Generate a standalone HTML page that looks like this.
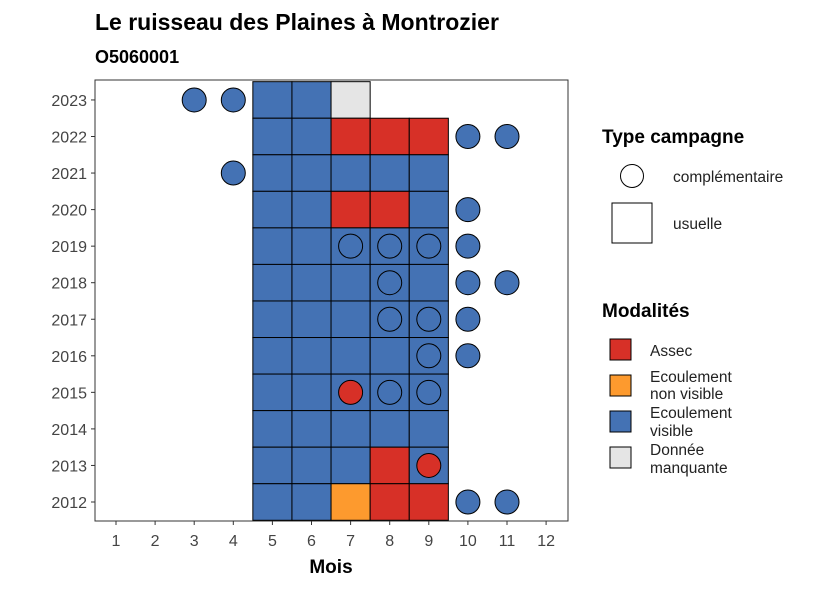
<!DOCTYPE html>
<html><head><meta charset="utf-8"><style>
body{margin:0;background:#fff;font-family:"Liberation Sans",sans-serif}
</style></head><body>
<svg id="c" width="826" height="590" xmlns="http://www.w3.org/2000/svg" font-family="Liberation Sans, sans-serif">
<text x="95" y="30" font-size="23" font-weight="bold">Le ruisseau des Plaines à Montrozier</text>
<text x="95" y="63" font-size="18" font-weight="bold">O5060001</text>
<rect x="95" y="80" width="473" height="441" fill="#fff" stroke="#333" stroke-width="1"/>
<g id="marks"></g>
<g id="axes"></g>
<text x="331" y="573" font-size="19" font-weight="bold" text-anchor="middle">Mois</text>
<g>
<text x="602" y="143" font-size="19" font-weight="bold">Type campagne</text>
<circle cx="632" cy="176" r="11.5" fill="#fff" stroke="#000"/>
<text x="673" y="182" font-size="15.5" fill="#222">complémentaire</text>
<rect x="612" y="203" width="40" height="40" fill="#fff" stroke="#000"/>
<text x="673" y="229" font-size="15.5" fill="#222">usuelle</text>
</g>
<g>
<text x="602" y="317" font-size="19" font-weight="bold">Modalités</text>
<rect x="610" y="339" width="21" height="21" fill="#D73027" stroke="#000"/>
<text x="650" y="356" font-size="15.5" fill="#222">Assec</text>
<rect x="610" y="375" width="21" height="21" fill="#FD9A2E" stroke="#000"/>
<text x="650" y="382" font-size="15.5" fill="#222">Ecoulement</text><text x="650" y="399" font-size="15.5" fill="#222">non visible</text>
<rect x="610" y="411" width="21" height="21" fill="#4472B4" stroke="#000"/>
<text x="650" y="418" font-size="15.5" fill="#222">Ecoulement</text><text x="650" y="436" font-size="15.5" fill="#222">visible</text>
<rect x="610" y="447" width="21" height="21" fill="#E5E5E5" stroke="#000"/>
<text x="650" y="455" font-size="15.5" fill="#222">Donnée</text><text x="650" y="473" font-size="15.5" fill="#222">manquante</text>
</g>
</svg>
<script>
const months=[1,2,3,4,5,6,7,8,9,10,11,12];
const years=[2012,2013,2014,2015,2016,2017,2018,2019,2020,2021,2022,2023];
const tileYears=[2023,2023,2023,2022,2022,2022,2022,2022,2021,2021,2021,2021,2021,2020,2020,2020,2020,2020,2019,2019,2019,2019,2019,2018,2018,2018,2018,2018,2017,2017,2017,2017,2017,2016,2016,2016,2016,2016,2015,2015,2015,2015,2015,2014,2014,2014,2014,2014,2013,2013,2013,2013,2013,2012,2012,2012,2012,2012];
const tileMonths=[5,6,7,5,6,7,8,9,5,6,7,8,9,5,6,7,8,9,5,6,7,8,9,5,6,7,8,9,5,6,7,8,9,5,6,7,8,9,5,6,7,8,9,5,6,7,8,9,5,6,7,8,9,5,6,7,8,9];
const tileCodes=["V","V","M","V","V","A","A","A","V","V","V","V","V","V","V","A","A","V","V","V","V","V","V","V","V","V","V","V","V","V","V","V","V","V","V","V","V","V","V","V","V","V","V","V","V","V","V","V","V","V","V","A","V","V","V","O","A","A"];
const ptYears=[2023,2023,2022,2022,2021,2020,2019,2019,2019,2019,2018,2018,2018,2017,2017,2017,2016,2016,2015,2015,2015,2013,2012,2012];
const ptMonths=[3,4,10,11,4,10,7,8,9,10,8,10,11,8,9,10,9,10,7,8,9,9,10,11];
const ptCodes=["V","V","V","V","V","V","V","V","V","V","V","V","V","V","V","V","V","V","A","V","V","A","V","V"];
const colors={V:"#4472B4",A:"#D73027",O:"#FD9A2E",M:"#E5E5E5"};
const xs=m=>116+(m-1)*39.1, ys=y=>502-(y-2012)*36.55;
const tw=39.1, th=36.55, NS="http://www.w3.org/2000/svg";
const g=document.getElementById('marks'), ax=document.getElementById('axes');
tileYears.forEach((y,i)=>{const r=document.createElementNS(NS,'rect');
r.setAttribute('x',xs(tileMonths[i])-tw/2);r.setAttribute('y',ys(y)-th/2);
r.setAttribute('width',tw);r.setAttribute('height',th);r.setAttribute('fill',colors[tileCodes[i]]);r.setAttribute('stroke','#000');


g.appendChild(r);});
ptYears.forEach((y,i)=>{const c=document.createElementNS(NS,'circle');
c.setAttribute('cx',xs(ptMonths[i]));c.setAttribute('cy',ys(y));c.setAttribute('r',12);
c.setAttribute('fill',colors[ptCodes[i]]);c.setAttribute('stroke','#000');


g.appendChild(c);});
months.forEach(m=>{const l=document.createElementNS(NS,'line');
l.setAttribute('x1',xs(m));l.setAttribute('x2',xs(m));l.setAttribute('y1',521);l.setAttribute('y2',525);l.setAttribute('stroke','#333');ax.appendChild(l);
const t=document.createElementNS(NS,'text');t.setAttribute('x',xs(m));t.setAttribute('y',546);t.setAttribute('font-size',16);t.setAttribute('fill','#444');t.setAttribute('text-anchor','middle');t.textContent=m;


ax.appendChild(t);});
years.forEach(y=>{const l=document.createElementNS(NS,'line');
l.setAttribute('x1',91);l.setAttribute('x2',95);l.setAttribute('y1',ys(y));l.setAttribute('y2',ys(y));l.setAttribute('stroke','#333');ax.appendChild(l);
const t=document.createElementNS(NS,'text');t.setAttribute('x',87);t.setAttribute('y',ys(y)+6);t.setAttribute('font-size',16);t.setAttribute('fill','#444');t.setAttribute('text-anchor','end');t.textContent=y;


ax.appendChild(t);});
</script>
</body></html>
